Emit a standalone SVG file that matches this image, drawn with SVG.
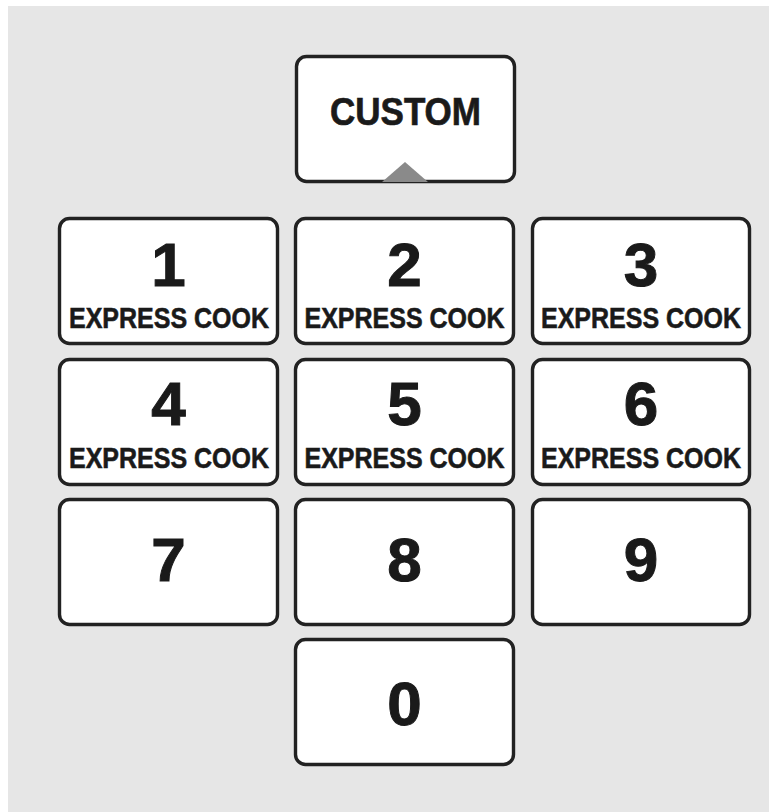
<svg xmlns="http://www.w3.org/2000/svg" width="769" height="812" viewBox="0 0 769 812">
<style>
.key{fill:#fff;stroke:#222;stroke-width:3.4}
.num{font-family:"Liberation Sans",Arial,sans-serif;font-weight:bold;font-size:62px;fill:#1a1a1a;stroke:#1a1a1a;stroke-width:1;text-anchor:middle}
.sub{font-family:"Liberation Sans",Arial,sans-serif;font-weight:bold;font-size:25px;fill:#1a1a1a;stroke:#1a1a1a;stroke-width:0.5;text-anchor:middle}
.lbl{font-family:"Liberation Sans",Arial,sans-serif;font-weight:bold;font-size:39px;fill:#1a1a1a;stroke:#1a1a1a;stroke-width:0.7;text-anchor:middle}
</style>
<rect x="0" y="0" width="769" height="812" fill="#fff"/>
<rect x="8" y="6" width="761" height="806" fill="#e6e6e6"/>
<g id="custom">
<rect class="key" x="296.5" y="56.5" width="218" height="125" rx="10"/>
<text class="lbl" x="405.5" y="125" textLength="151" lengthAdjust="spacingAndGlyphs">CUSTOM</text>
<polygon points="382,182 405,162 428,182" fill="#8a8a8a"/>
</g>
<g id="key1">
<rect class="key" x="59.5" y="218.5" width="218" height="125" rx="10"/>
<text class="num" x="168.5" y="286">1</text>
<text class="sub" transform="translate(169,328) scale(1,1.16)">EXPRESS COOK</text>
</g>
<g id="key2">
<rect class="key" x="295.5" y="218.5" width="218" height="125" rx="10"/>
<text class="num" x="404.5" y="286">2</text>
<text class="sub" transform="translate(404.5,328) scale(1,1.16)">EXPRESS COOK</text>
</g>
<g id="key3">
<rect class="key" x="532.5" y="218.5" width="217" height="125" rx="10"/>
<text class="num" x="641" y="286">3</text>
<text class="sub" transform="translate(641,328) scale(1,1.16)">EXPRESS COOK</text>
</g>
<g id="key4">
<rect class="key" x="59.5" y="359.5" width="218" height="125" rx="10"/>
<text class="num" x="168.5" y="425">4</text>
<text class="sub" transform="translate(169,468) scale(1,1.16)">EXPRESS COOK</text>
</g>
<g id="key5">
<rect class="key" x="295.5" y="359.5" width="218" height="125" rx="10"/>
<text class="num" x="404.5" y="425">5</text>
<text class="sub" transform="translate(404.5,468) scale(1,1.16)">EXPRESS COOK</text>
</g>
<g id="key6">
<rect class="key" x="532.5" y="359.5" width="217" height="125" rx="10"/>
<text class="num" x="641" y="425">6</text>
<text class="sub" transform="translate(641,468) scale(1,1.16)">EXPRESS COOK</text>
</g>
<g id="key7">
<rect class="key" x="59.5" y="499.5" width="218" height="125" rx="10"/>
<text class="num" x="168.5" y="581">7</text>
</g>
<g id="key8">
<rect class="key" x="295.5" y="499.5" width="218" height="125" rx="10"/>
<text class="num" x="404.5" y="581">8</text>
</g>
<g id="key9">
<rect class="key" x="532.5" y="499.5" width="217" height="125" rx="10"/>
<text class="num" x="641" y="581">9</text>
</g>
<g id="key0">
<rect class="key" x="295.5" y="639.5" width="218" height="125" rx="10"/>
<text class="num" x="404.5" y="725">0</text>
</g>
<g id="connectors"></g>
</svg>
